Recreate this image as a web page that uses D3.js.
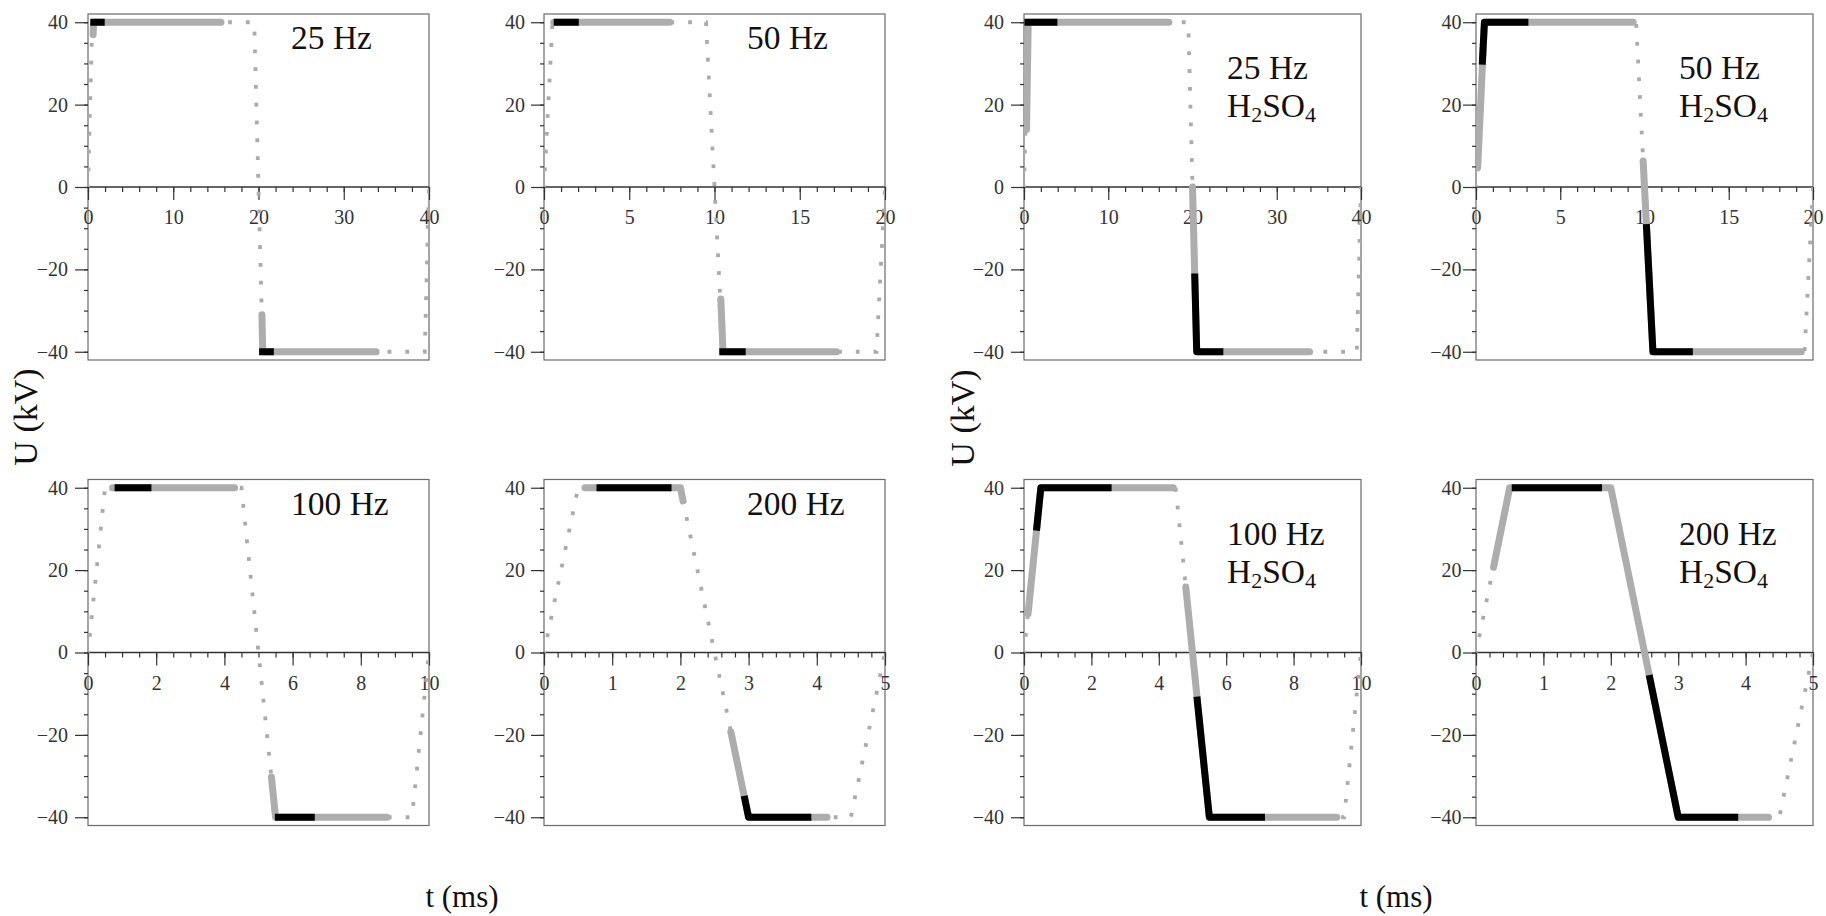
<!DOCTYPE html>
<html><head><meta charset="utf-8">
<script src="https://cdn.jsdelivr.net/npm/d3@7"></script>
<style>
body{margin:0;background:#fff}
svg{display:block}
text{font-family:"Liberation Serif","Times New Roman",serif}
</style>
</head><body>
<svg id="chart" width="1826" height="916"></svg>
<script>
// ---------------- data ----------------
const frequencyLabels = ["25 Hz", "50 Hz", "25 Hz", "50 Hz", "100 Hz", "200 Hz", "100 Hz", "200 Hz"];
const withAcid = [false, false, true, true, false, false, true, true];
const periodMs = [40, 20, 40, 20, 10, 5, 10, 5];

const xTicks25 = [0, 10, 20, 30, 40];
const xTicks50 = [0, 5, 10, 15, 20];
const xTicks100 = [0, 2, 4, 6, 8, 10];
const xTicks200 = [0, 1, 2, 3, 4, 5];
const yTicksMajor = [-40, -20, 0, 20, 40];
const yTicksMinor = [-40, -35, -30, -25, -20, -15, -10, -5, 0, 5, 10, 15, 20, 25, 30, 35, 40];

// applied (reference) voltage, dotted  [t (ms), U (kV)]
const wave25 = [[0, 0], [0.5, 40], [19.5, 40], [20.5, -40], [39.5, -40], [40, 0]];
const wave50 = [[0, 0], [0.5, 40], [9.5, 40], [10.5, -40], [19.5, -40], [20, 0]];
const wave100 = [[0, 0], [0.5, 40], [4.5, 40], [5.5, -40], [9.5, -40], [10, 0]];
const wave200 = [[0, 0], [0.5, 40], [2, 40], [3, -40], [4.5, -40], [5, 0]];

// grey thick segments
const gray25 = [[[0.6, 37], [0.65, 40], [15.6, 40]], [[20.4, -31], [20.5, -40], [33.8, -40]]];
const gray50 = [[[0.57, 40], [7.37, 40]], [[10.37, -27.2], [10.5, -40], [17.15, -40]]];
const gray25acid = [[[0.3, 14], [0.5, 40], [17.2, 40]], [[20.0, 0], [20.5, -40], [33.9, -40]]];
const gray50acid = [[[0.1, 4.7], [0.5, 40], [9.33, 40]], [[9.92, 6.3], [10.5, -40], [19.31, -40]]];
const gray100 = [[[0.72, 40], [4.3, 40]], [[5.38, -30.3], [5.5, -40], [8.77, -40]]];
const gray200 = [[[0.6, 40], [2.0, 40], [2.04, 36.8]], [[2.74, -19.3], [3.0, -40], [4.15, -40]]];
const gray100acid = [[[0.12, 9.4], [0.5, 40], [4.43, 40]], [[4.8, 15.9], [5.5, -40], [9.28, -40]]];
const gray200acid = [[[0.26, 20.7], [0.5, 40], [2.0, 40], [2.57, -5.5]], [[2.57, -5.5], [3.0, -40], [4.34, -40]]];

// black thick segments
const black25 = [[[0.27, 40], [1.96, 40]], [[20.07, -40], [21.8, -40]]];
const black50 = [[[0.57, 40], [2.04, 40]], [[10.28, -40], [11.83, -40]]];
const black25acid = [[[0.05, 40], [3.96, 40]], [[20.26, -21], [20.5, -40], [23.66, -40]]];
const black50acid = [[[0.37, 29.7], [0.5, 40], [3.11, 40]], [[10.11, -9], [10.5, -40], [12.87, -40]]];
const black100 = [[[0.78, 40], [1.86, 40]], [[5.48, -40], [6.65, -40]]];
const black200 = [[[0.77, 40], [1.87, 40]], [[2.935, -34.8], [3.0, -40], [3.92, -40]]];
const black100acid = [[[0.37, 29.6], [0.5, 40], [2.6, 40]], [[5.13, -10.7], [5.5, -40], [7.15, -40]]];
const black200acid = [[[0.53, 40], [1.87, 40]], [[2.57, -5.5], [3.0, -40], [3.89, -40]]];

const xTickSets = [xTicks25, xTicks50, xTicks25, xTicks50, xTicks100, xTicks200, xTicks100, xTicks200];
const waves = [wave25, wave50, wave25, wave50, wave100, wave200, wave100, wave200];
const grays = [gray25, gray50, gray25acid, gray50acid, gray100, gray200, gray100acid, gray200acid];
const blacks = [black25, black50, black25acid, black50acid, black100, black200, black100acid, black200acid];

// ---------------- layout ----------------
const colX = [[88, 429], [544, 885], [1024, 1361], [1476, 1813]];
const rowY = [14, 479.5];
const plotH = 346;
const yLabelPad = [7, 6, 7, 1.5];

const svg = d3.select("#chart");

frequencyLabels.forEach((lab, i) => {
  const col = i % 4, row = Math.floor(i / 4);
  const [x0, x1] = colX[col];
  const y0 = rowY[row];
  const x = d3.scaleLinear().domain([0, periodMs[i]]).range([x0, x1]);
  const y = d3.scaleLinear().domain([-42, 42]).range([y0 + plotH, y0]);
  const g = svg.append("g");

  const clipId = "clip" + i;
  svg.append("clipPath").attr("id", clipId)
    .append("rect").attr("x", x0).attr("y", y0).attr("width", x1 - x0).attr("height", plotH);

  // frame
  g.append("rect").attr("x", x0).attr("y", y0).attr("width", x1 - x0).attr("height", plotH)
    .attr("fill", "none").attr("stroke", "#6a6a6a").attr("stroke-width", 1.2);

  // y axis ticks
  const yMinorG = g.append("g").attr("transform", `translate(${x0},0)`)
    .call(d3.axisLeft(y).tickValues(yTicksMinor).tickSize(4).tickFormat(""));
  const yMajorG = g.append("g").attr("transform", `translate(${x0},0)`)
    .call(d3.axisLeft(y).tickValues(yTicksMajor).tickSize(13).tickPadding(yLabelPad[col]).tickFormat(d3.format("d")));

  // zero line
  g.append("line").attr("x1", x0).attr("x2", x1).attr("y1", y(0)).attr("y2", y(0))
    .attr("stroke", "#333").attr("stroke-width", 1.4);

  // x axis ticks on the zero line
  const xMinorG = g.append("g").attr("transform", `translate(0,${y(0)})`)
    .call(d3.axisBottom(x).ticks(20).tickSize(5).tickFormat(""));
  const xMajorG = g.append("g").attr("transform", `translate(0,${y(0)})`)
    .call(d3.axisBottom(x).tickValues(xTickSets[i]).tickSize(13).tickPadding(10).tickFormat(d3.format("d")));

  [yMinorG, yMajorG, xMinorG, xMajorG].forEach(a => {
    a.select(".domain").remove();
    a.selectAll(".tick line").attr("stroke", "#333").attr("stroke-width", 1.2);
    a.selectAll(".tick text").attr("font-size", 20).attr("fill", "#333")
      .attr("font-family", "'Liberation Serif','Times New Roman',serif");
  });

  const line = d3.line().x(d => x(d[0])).y(d => y(d[1]));
  const plot = g.append("g").attr("clip-path", `url(#${clipId})`);

  plot.append("path").attr("d", line(waves[i]))
    .attr("fill", "none").attr("stroke", "#aaaaaa").attr("stroke-width", 3.8)
    .attr("stroke-dasharray", "3.8,14").attr("stroke-dashoffset", 2);

  grays[i].forEach(seg => plot.append("path").attr("d", line(seg))
    .attr("fill", "none").attr("stroke", "#adadad").attr("stroke-width", 7)
    .attr("stroke-linecap", "round").attr("stroke-linejoin", "round"));

  blacks[i].forEach(seg => plot.append("path").attr("d", line(seg))
    .attr("fill", "none").attr("stroke", "#000").attr("stroke-width", 7)
    .attr("stroke-linecap", "butt").attr("stroke-linejoin", "round"));

  // panel label
  const tx = x0 + 203;
  if (!withAcid[i]) {
    g.append("text").attr("x", tx).attr("y", y0 + 35).attr("font-size", 33.5).attr("fill", "#111").text(lab);
  } else {
    g.append("text").attr("x", tx).attr("y", y0 + 65).attr("font-size", 33.5).attr("fill", "#111").text(lab);
    const t = g.append("text").attr("x", tx).attr("y", y0 + 103).attr("font-size", 33.5).attr("fill", "#111");
    t.append("tspan").text("H");
    t.append("tspan").attr("font-size", 22).attr("dy", 5).text("2");
    t.append("tspan").attr("dy", -5).text("SO");
    t.append("tspan").attr("font-size", 22).attr("dy", 5).text("4");
  }
});

// axis titles
[[29, 417], [966, 418]].forEach(([cx, cy]) => {
  svg.append("text").attr("transform", `translate(${cx + 8},${cy}) rotate(-90)`)
    .attr("text-anchor", "middle").attr("font-size", 34).attr("fill", "#111").text("U (kV)");
});
[462, 1396].forEach(cx => {
  svg.append("text").attr("x", cx).attr("y", 907).attr("text-anchor", "middle")
    .attr("font-size", 31).attr("fill", "#111").text("t (ms)");
});
</script>
</body></html>
